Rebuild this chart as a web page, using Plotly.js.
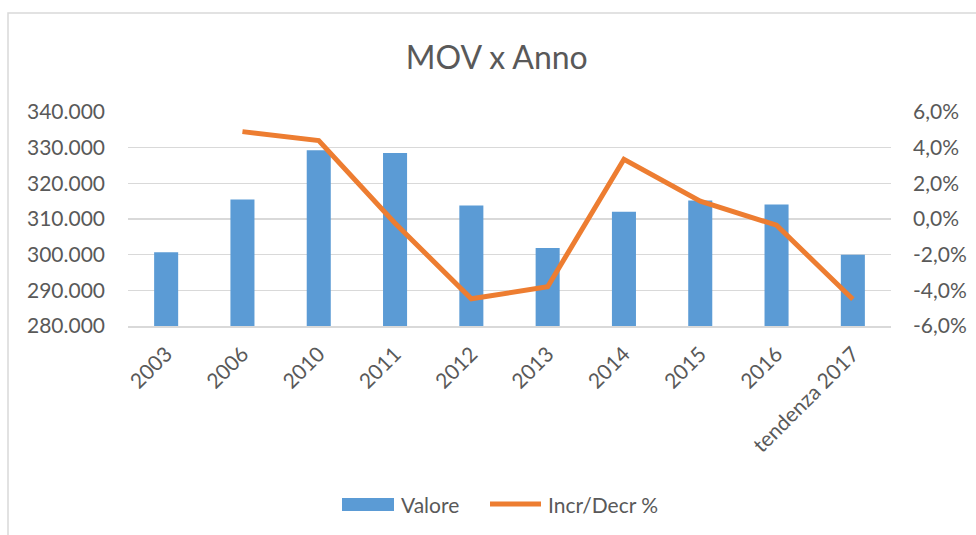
<!DOCTYPE html>
<html>
<head>
<meta charset="utf-8">
<script src="https://cdn.plot.ly/plotly-3.0.1.min.js"></script>
<style>
html,body{margin:0;padding:0;background:#fff;}
#chart{width:976px;height:535px;}
</style>
</head>
<body>
<div id="chart"></div>
<script>
var categories = ["2003","2006","2010","2011","2012","2013","2014","2015","2016","tendenza 2017"];
var valore = [300700, 315500, 329300, 328500, 313800, 301900, 312000, 315200, 314100, 300000];
var incrDecr = [null, 0.049, 0.044, -0.0024, -0.0447, -0.038, 0.0335, 0.010, -0.0035, -0.045];
var leftTicks = [280000, 290000, 300000, 310000, 320000, 330000, 340000];
var leftTickText = ["280.000","290.000","300.000","310.000","320.000","330.000","340.000"];
var rightTicks = [-0.06, -0.04, -0.02, 0, 0.02, 0.04, 0.06];
var rightTickText = ["-6,0%","-4,0%","-2,0%","0,0%","2,0%","4,0%","6,0%"];
var seriesNames = ["Valore", "Incr/Decr %"];
var seriesColors = ["#5B9BD5", "#ED7D31"];

var font = "Lato, 'Open Sans', sans-serif";
var txt = "#595959";

// helpers to convert pixel positions to paper coordinates (plot area 128..891 x, 112..326 y)
function px(x) { return (x - 128) / 763; }
function py(y) { return (326 - y) / 214; }

var traces = [
  {
    type: "bar", name: seriesNames[0], x: categories, y: valore,
    marker: {color: seriesColors[0]}, yaxis: "y", showlegend: false
  },
  {
    type: "scatter", mode: "lines", name: seriesNames[1], x: categories, y: incrDecr,
    line: {color: seriesColors[1], width: 5}, yaxis: "y2", connectgaps: false, showlegend: false
  }
];

var layout = {
  width: 976, height: 535,
  margin: {l: 128, r: 85, t: 112, b: 209},
  paper_bgcolor: "#fff", plot_bgcolor: "#fff",
  font: {family: font, color: txt, size: 21},
  title: {text: "MOV x Anno", font: {family: font, size: 32, color: txt},
          x: 0.509, xref: "container", xanchor: "center", y: 0.892, yref: "container", yanchor: "middle"},
  bargap: 0.685,
  showlegend: false,
  xaxis: {
    type: "category", tickangle: -45, tickfont: {family: font, size: 21, color: txt},
    showgrid: false, showline: true, linecolor: "#d9d9d9", linewidth: 1.5, ticks: "",
    ticklabelstandoff: 6
  },
  yaxis: {
    range: [280000, 340000], tickvals: leftTicks, ticktext: leftTickText,
    tickfont: {family: font, size: 21, color: txt},
    showgrid: true, gridcolor: "#d9d9d9", gridwidth: 1.5, zeroline: false,
    showline: false, ticks: "", ticklabelstandoff: 22
  },
  yaxis2: {
    range: [-0.06, 0.06], tickvals: rightTicks, ticktext: rightTickText,
    overlaying: "y", side: "right", showgrid: false, zeroline: false,
    tickfont: {family: font, size: 21, color: txt}, showline: false, ticks: "",
    ticklabelstandoff: 21
  },
  shapes: [
    {type: "rect", xref: "paper", yref: "paper", x0: px(8), x1: px(1100), y0: py(700), y1: py(13),
     line: {color: "#d9d9d9", width: 1.5}, fillcolor: "rgba(0,0,0,0)", layer: "below"},
    {type: "rect", xref: "paper", yref: "paper", x0: px(342), x1: px(394), y0: py(511), y1: py(498),
     line: {width: 0}, fillcolor: seriesColors[0]},
    {type: "line", xref: "paper", yref: "paper", x0: px(490), x1: px(541), y0: py(504), y1: py(504),
     line: {color: seriesColors[1], width: 5}}
  ],
  annotations: [
    {text: seriesNames[0], xref: "paper", yref: "paper", x: px(399), y: py(504), xanchor: "left", yanchor: "middle",
     showarrow: false, font: {family: font, size: 21, color: txt}},
    {text: seriesNames[1], xref: "paper", yref: "paper", x: px(546), y: py(504), xanchor: "left", yanchor: "middle",
     showarrow: false, font: {family: font, size: 21, color: txt}}
  ]
};

Plotly.newPlot("chart", traces, layout, {displayModeBar: false, staticPlot: true});
</script>
</body>
</html>
